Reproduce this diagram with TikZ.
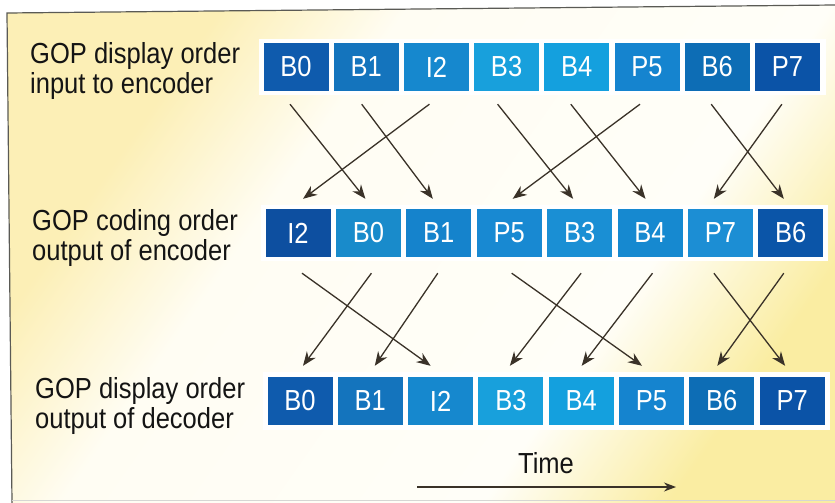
\documentclass[tikz,border=0pt]{standalone}
\usepackage{fontspec}
\setmainfont{Liberation Sans}[FakeStretch=0.88]
\usetikzlibrary{arrows.meta}
\definecolor{bgY}{HTML}{FCEFB6}
\definecolor{bgW}{HTML}{FFFDF3}
\definecolor{bgWb}{HTML}{FFFEF8}
\definecolor{bgYb}{HTML}{FAEDA2}
\definecolor{frm}{HTML}{5A5A55}
\definecolor{arrc}{HTML}{3A3228}
\definecolor{txt}{HTML}{141414}
% row 1 / row 3 colours
\definecolor{aa}{HTML}{0F5BAD}
\definecolor{ab}{HTML}{1474BD}
\definecolor{ac}{HTML}{1688CE}
\definecolor{ad}{HTML}{18A0DC}
\definecolor{ae}{HTML}{14A0DE}
\definecolor{af}{HTML}{1584CF}
\definecolor{ag}{HTML}{0D6DB5}
\definecolor{ah}{HTML}{0B53A7}
% row 2 colours
\definecolor{ba}{HTML}{0D4FA0}
\definecolor{bb}{HTML}{198BCB}
\definecolor{bc}{HTML}{1583CC}
\definecolor{bd}{HTML}{1889D2}
\definecolor{be}{HTML}{1A8FD4}
\definecolor{bf}{HTML}{1689D0}
\definecolor{bg}{HTML}{1C8ED4}
\definecolor{bh}{HTML}{0B55A8}
\pgfdeclarehorizontalshading{bgshade}{100bp}{color(0bp)=(bgY); color(28bp)=(bgY); color(39bp)=(bgW); color(64bp)=(bgWb); color(75bp)=(bgYb); color(100bp)=(bgYb)}
\begin{document}
\begin{tikzpicture}[x=1pt,y=-1pt,
  frame/.style={draw=frm,line width=1.2pt},
  box/.style={minimum width=65pt,minimum height=48pt,inner sep=0pt,text=white,
    font=\fontsize{29}{30}\selectfont},
  lbl/.style={anchor=north west,align=left,inner sep=0pt,text=txt,
    font=\fontsize{29}{30}\selectfont},
  arr/.style={draw=arrc,line width=1.3pt,-{Stealth[length=14pt,width=11pt]}},
  band/.style={fill=white}]
\useasboundingbox (0,0) rectangle (835,503);
\fill[white] (0,0) rectangle (835,503);
\shade[shading=bgshade,shading angle=-35]
  (7,13) -- (835,5) -- (835,503) -- (12,503) -- cycle;
\draw[frame] (835,5) -- (7,13) -- (12,503);
\draw[draw=frm!25,line width=0.8pt] (12,500) -- (835,500);

% white bands behind the rows
\fill[band] (259,39) rectangle (826,95);
\fill[band] (261,205) rectangle (828,261);
\fill[band] (263,372) rectangle (830,430);

% row labels
\node[lbl] (L1) at (30,42) {GOP display order\\input to encoder};
\node[lbl] (L2) at (32,209) {GOP coding order\\output of encoder};
\node[lbl] (L3) at (35,377) {GOP display order\\output of decoder};

% rows of frames
\foreach \t/\c [count=\i from 0] in {B0/aa,B1/ab,I2/ac,B3/ad,B4/ae,P5/af,B6/ag,P7/ah}
  \node[box,fill=\c] (r1n\i) at (296+70.2*\i,67) {\t};
\foreach \t/\c [count=\i from 0] in {I2/ba,B0/bb,B1/bc,P5/bd,B3/be,B4/bf,P7/bg,B6/bh}
  \node[box,fill=\c] (r2n\i) at (298+70.4*\i,233) {\t};
\foreach \t/\c [count=\i from 0] in {B0/aa,B1/ab,I2/ac,B3/ad,B4/ae,P5/af,B6/ag,P7/ah}
  \node[box,fill=\c] (r3n\i) at (300+70.3*\i,401) {\t};

% reordering arrows
\foreach \a/\b/\s/\e in {0/1/-6/-3,1/2/-4.5/-6,2/0/-7/5,3/4/-9/-6.5,4/5/-6/-4.5,5/3/-7/3.5,6/7/-6/-7,7/6/-5.5/-6.5}
  \draw[arr] ([xshift=\s pt,yshift=-13pt]r1n\a.south) -- ([xshift=\e pt,yshift=10pt]r2n\b.north);
\foreach \a/\b/\s/\e in {0/2/4/-10,1/0/3/3,2/1/-1/4.5,3/5/2.5/-9.5,4/3/1.5/-1,5/4/2.5/0.5,6/7/-6.5/-7,7/6/-7/-4.5}
  \draw[arr] ([xshift=\s pt,yshift=-16pt]r2n\a.south) -- ([xshift=\e pt,yshift=11pt]r3n\b.north);

% time axis
\node[anchor=base,inner sep=0pt,text=txt,font=\fontsize{29}{30}\selectfont] (time) at (546,473) {Time};
\coordinate (t0) at (417,487);
\coordinate (t1) at (676,487);
\draw[arr,line width=1.1pt,-{Stealth[length=12pt,width=9pt]}] (t0) -- (t1);
\end{tikzpicture}
\end{document}
